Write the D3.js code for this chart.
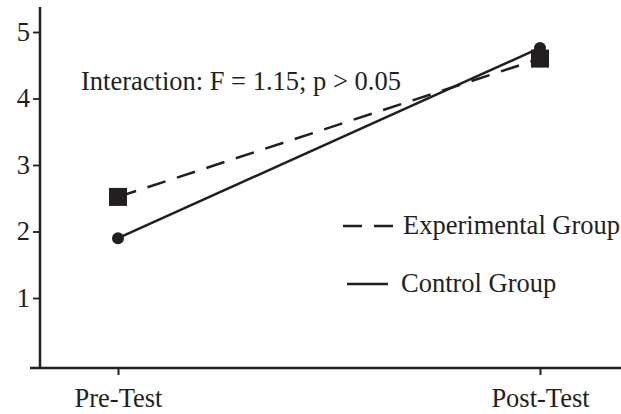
<!DOCTYPE html>
<html><head><meta charset="utf-8">
<script src="https://cdn.jsdelivr.net/npm/d3@7"></script>
<style>body{margin:0;background:#fff}svg{display:block}text{font-family:"Liberation Serif","Times New Roman",serif;fill:#231f20}</style>
</head><body><svg id="c" width="621" height="414"></svg>
<script>
const categories = ["Pre-Test", "Post-Test"];
const experimental = [2.52, 4.60];
const control = [1.90, 4.76];
const yTicks = [1, 2, 3, 4, 5];
const seriesNames = ["Experimental Group", "Control Group"];
const annotation = "Interaction: F = 1.15; p > 0.05";

const ink = "#231f20";
const fs = 26.5;
const svg = d3.select("#c");
const x = d3.scalePoint().domain(categories).range([118, 540]);
const y = d3.scaleLinear().domain([0, 5]).range([364.5, 32]);

// axes lines
svg.append("line").attr("x1", 40).attr("x2", 40).attr("y1", 7).attr("y2", 369)
  .attr("stroke", ink).attr("stroke-width", 2.5);
svg.append("line").attr("x1", 30).attr("x2", 621).attr("y1", 368).attr("y2", 368)
  .attr("stroke", ink).attr("stroke-width", 2.5);

const yAxis = svg.append("g").attr("transform", "translate(40,0)")
  .call(d3.axisLeft(y).tickValues(yTicks).tickFormat(d3.format("d")).tickSize(7).tickPadding(3));
yAxis.select(".domain").remove();
yAxis.selectAll(".tick line").attr("stroke", ink).attr("stroke-width", 1.8);
yAxis.selectAll(".tick text").attr("font-size", fs).attr("font-family", "Liberation Serif").attr("fill", ink);

const xAxis = svg.append("g").attr("transform", "translate(0,368)")
  .call(d3.axisBottom(x).tickSize(7).tickPadding(13));
xAxis.select(".domain").remove();
xAxis.selectAll(".tick line").attr("stroke", ink).attr("stroke-width", 2);
xAxis.selectAll(".tick text").attr("font-size", fs).attr("font-family", "Liberation Serif").attr("fill", ink);

const line = d3.line().x((d, i) => x(categories[i])).y(d => y(d));
svg.append("path").datum(experimental).attr("d", line).attr("fill", "none")
  .attr("stroke", ink).attr("stroke-width", 2.5).attr("stroke-dasharray", "19,12");
svg.append("path").datum(control).attr("d", line).attr("fill", "none")
  .attr("stroke", ink).attr("stroke-width", 2.5);

svg.selectAll(".sq").data(experimental).enter().append("rect")
  .attr("x", (d, i) => x(categories[i]) - 9).attr("y", d => y(d) - 9)
  .attr("width", 18).attr("height", 18).attr("fill", ink);
svg.selectAll(".ci").data(control).enter().append("circle")
  .attr("cx", (d, i) => x(categories[i])).attr("cy", d => y(d)).attr("r", 6).attr("fill", ink);

svg.append("text").attr("x", 81).attr("y", 90).attr("font-size", fs).text(annotation);

// legend
svg.append("line").attr("x1", 343).attr("x2", 393).attr("y1", 226).attr("y2", 226)
  .attr("stroke", ink).attr("stroke-width", 2.5).attr("stroke-dasharray", "19,12");
svg.append("text").attr("x", 403).attr("y", 234).attr("font-size", fs).text(seriesNames[0]);
svg.append("line").attr("x1", 347).attr("x2", 388).attr("y1", 284).attr("y2", 284)
  .attr("stroke", ink).attr("stroke-width", 2.5);
svg.append("text").attr("x", 401).attr("y", 292).attr("font-size", fs).text(seriesNames[1]);
</script></body></html>
